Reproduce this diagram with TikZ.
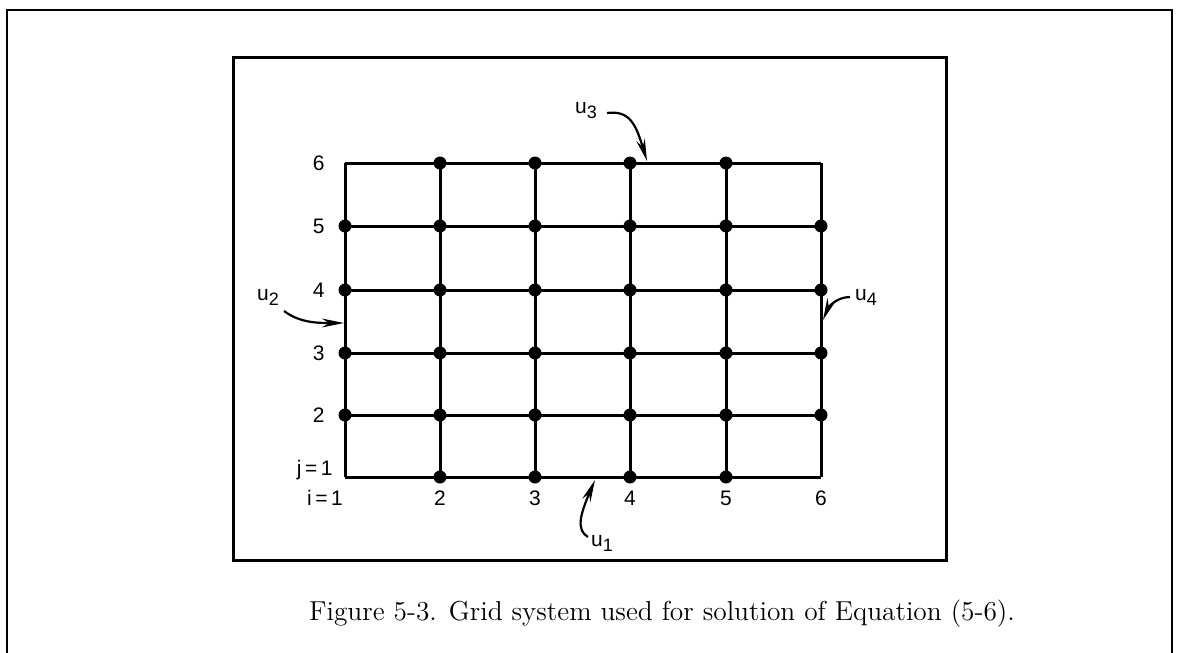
\documentclass[tikz,border=0pt]{standalone}
\usepackage{fontspec}
\newfontfamily\labfont{Liberation Sans}
\usetikzlibrary{arrows.meta}
\newcommand{\usub}[1]{u\raisebox{-0.45ex}{\small #1}}
\begin{document}
\begin{tikzpicture}[x=0.5pt,y=-0.5pt,
  frameline/.style={line width=1.1pt},
  boxline/.style={line width=1.5pt},
  gridline/.style={line width=1.5pt},
  dotmark/.style={circle,fill=black,inner sep=0pt,minimum size=6.5pt},
  lab/.style={font=\labfont\fontsize{10.5}{12}\selectfont,inner sep=1pt},
  pointer/.style={line width=1.1pt,-{Stealth[length=11pt,width=4.4pt]}},
  caption/.style={font=\fontsize{13.7}{16}\selectfont}]
\useasboundingbox (0,0) rectangle (1179,653);
% outer frame
\coordinate (ob1) at (7,653);
\coordinate (ot1) at (7,10);
\coordinate (ot2) at (1172,10);
\coordinate (ob2) at (1172,653);
\draw[frameline] (ob1) -- (ot1) -- (ot2) -- (ob2);
% inner frame
\coordinate (ib1) at (233,57);
\coordinate (ib2) at (946,560);
\draw[boxline] (ib1) rectangle (ib2);
% grid coordinates
\foreach \i/\x in {1/345,2/440,3/535,4/630,5/726,6/821}{
  \foreach \j/\y in {1/477,2/415,3/353,4/290,5/226,6/163}{
    \coordinate (p\i\j) at (\x,\y);
  }
}
% grid lines
\foreach \j in {1,...,6}{\draw[gridline] (p1\j) -- (p6\j);}
\foreach \i in {1,...,6}{\draw[gridline] (p\i1) -- (p\i6);}
% dots
\foreach \i in {2,...,5}{\node[dotmark] (d\i1) at (p\i1) {}; \node[dotmark] (d\i6) at (p\i6) {};}
\foreach \i in {1,...,6}{\foreach \j in {2,...,5}{\node[dotmark] (d\i\j) at (p\i\j) {};}}
% j labels
\foreach \j in {2,...,6}{\node[lab,anchor=east] (jl\j) at ([xshift=-9pt]p1\j) {\j};}
\node[lab,anchor=east] (jl1) at ([xshift=-5pt,yshift=3.5pt]p11) {j\,=\,1};
% i labels
\node[lab] (il1) at ([xshift=-10pt,yshift=-10.5pt]p11) {i\,=\,1};
\foreach \i in {2,...,6}{\node[lab] (il\i) at ([yshift=-10.5pt]p\i1) {\i};}
% boundary labels and pointers
\node[lab] (u3) at (586,111) {\usub{3}};
\coordinate (u3s) at (607,113);
\coordinate (u3t) at (647,161);
\draw[pointer] (u3s) .. controls (630,110) and (636,125) .. (u3t);
\node[lab] (u1) at (602,543) {\usub{1}};
\coordinate (u1s) at (588,537);
\coordinate (u1t) at (595,480);
\draw[pointer] (u1s) .. controls (576,530) and (580,515) .. (u1t);
\node[lab] (u2) at (268,297) {\usub{2}};
\coordinate (u2s) at (284,311);
\coordinate (u2t) at (344,323);
\draw[pointer] (u2s) .. controls (300,323) and (318,323) .. (u2t);
\node[lab] (u4) at (866,297) {\usub{4}};
\coordinate (u4s) at (850,297);
\coordinate (u4t) at (823,320);
\draw[pointer] (u4s) .. controls (836,297) and (828,308) .. (u4t);
% caption
\node[caption] (cap) at (662,614) {Figure 5-3. Grid system used for solution of Equation (5-6).};
\end{tikzpicture}
\end{document}
